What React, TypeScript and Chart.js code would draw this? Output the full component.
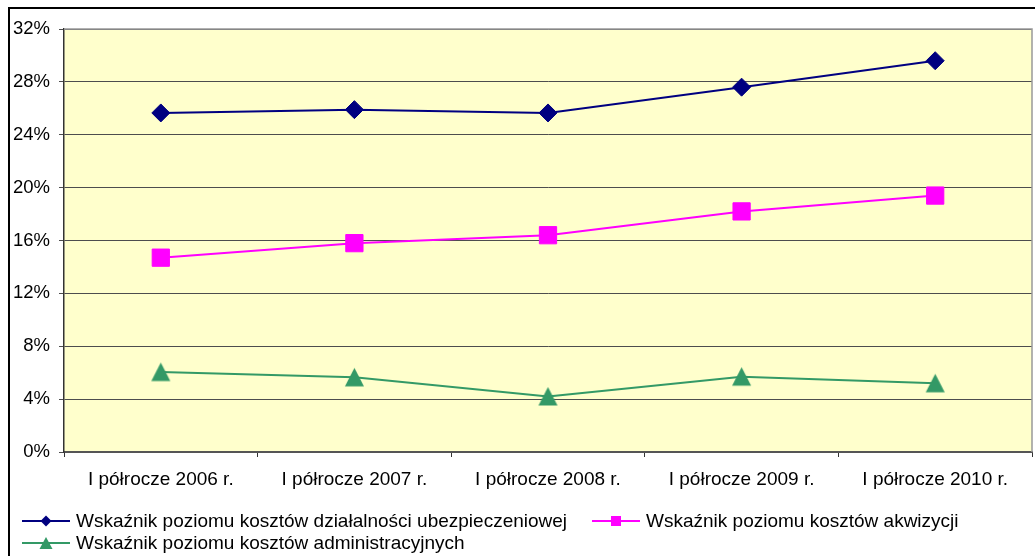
import React, { useEffect, useRef } from 'react';
import { Chart, registerables } from 'chart.js';

Chart.register(...registerables);

const categories = [
  'I półrocze 2006 r.',
  'I półrocze 2007 r.',
  'I półrocze 2008 r.',
  'I półrocze 2009 r.',
  'I półrocze 2010 r.',
];
const activityCost = [25.65, 25.9, 25.65, 27.6, 29.6];
const acquisitionCost = [14.7, 15.8, 16.4, 18.2, 19.4];
const adminCost = [6.05, 5.65, 4.2, 5.7, 5.2];
const seriesLabels = [
  'Wskaźnik poziomu kosztów działalności ubezpieczeniowej',
  'Wskaźnik poziomu kosztów akwizycji',
  'Wskaźnik poziomu kosztów administracyjnych',
];
const yMin = 0;
const yMax = 32;
const yStep = 4;

const FONT = '"Liberation Sans", Arial, sans-serif';
const colors = ['#000080', '#FF00FF', '#339966'];

function triangleCanvas(color: string, w: number, h: number) {
  const c = document.createElement('canvas');
  c.width = Math.ceil(w) + 2;
  c.height = Math.ceil(h) + 2;
  const g = c.getContext('2d') as CanvasRenderingContext2D;
  g.fillStyle = color;
  g.beginPath();
  g.moveTo(c.width / 2, 1);
  g.lineTo(c.width / 2 + w / 2, 1 + h);
  g.lineTo(c.width / 2 - w / 2, 1 + h);
  g.closePath();
  g.fill();
  return c;
}

function drawMarker(ctx: CanvasRenderingContext2D, i: number, x: number, y: number) {
  ctx.beginPath();
  if (i === 0) {
    const r = 5.5;
    ctx.moveTo(x, y - r);
    ctx.lineTo(x + r, y);
    ctx.lineTo(x, y + r);
    ctx.lineTo(x - r, y);
  } else if (i === 1) {
    const s = 5;
    ctx.rect(x - s, y - s, 2 * s, 2 * s);
  } else {
    ctx.moveTo(x, y - 6);
    ctx.lineTo(x + 6.5, y + 6);
    ctx.lineTo(x - 6.5, y + 6);
  }
  ctx.closePath();
  ctx.fill();
}

const decorPlugin = {
  id: 'decor',
  beforeDraw(chart: any) {
    const { ctx, chartArea } = chart;
    ctx.save();
    ctx.fillStyle = '#FFFFFF';
    ctx.fillRect(0, 0, chart.width, chart.height);
    ctx.fillStyle = '#FFFFCC';
    ctx.fillRect(chartArea.left, chartArea.top, chartArea.right - chartArea.left, chartArea.bottom - chartArea.top);
    ctx.restore();
  },
  afterDraw(chart: any) {
    const { ctx, chartArea } = chart;
    ctx.save();
    ctx.strokeStyle = '#999999';
    ctx.lineWidth = 1.5;
    ctx.beginPath();
    ctx.moveTo(chartArea.left, chartArea.top);
    ctx.lineTo(chartArea.right, chartArea.top);
    ctx.lineTo(chartArea.right, chartArea.bottom);
    ctx.stroke();
    ctx.strokeStyle = '#000000';
    ctx.lineWidth = 2;
    ctx.strokeRect(9, 8, 1200, 800);
    const items = [
      { x: 22, y: 521, i: 0 },
      { x: 592, y: 521, i: 1 },
      { x: 22, y: 543, i: 2 },
    ];
    ctx.font = '19px ' + FONT;
    ctx.textBaseline = 'middle';
    ctx.textAlign = 'left';
    items.forEach(({ x, y, i }) => {
      ctx.strokeStyle = colors[i];
      ctx.lineWidth = 2;
      ctx.beginPath();
      ctx.moveTo(x, y);
      ctx.lineTo(x + 48, y);
      ctx.stroke();
      ctx.fillStyle = colors[i];
      drawMarker(ctx, i, x + 24, y);
      ctx.fillStyle = '#000000';
      ctx.fillText(seriesLabels[i], x + 54, y + 0.5);
    });
    ctx.restore();
  },
};

export default function App() {
  const ref = useRef<HTMLCanvasElement>(null);
  useEffect(() => {
    if (!ref.current) return;
    const mk = (label: string, data: number[], i: number, style: any, radius: number) => ({
      label,
      data,
      borderColor: colors[i],
      backgroundColor: colors[i],
      pointBackgroundColor: colors[i],
      pointBorderColor: colors[i],
      pointStyle: style,
      pointRadius: radius,
      pointBorderWidth: 1,
      borderWidth: 2,
      tension: 0,
    });
    const tri = triangleCanvas(colors[2], 19, 18.5);
    const chart = new Chart(ref.current, {
      type: 'line',
      data: {
        labels: categories,
        datasets: [
          mk(seriesLabels[0], activityCost, 0, 'rectRot', 9),
          mk(seriesLabels[1], acquisitionCost, 1, 'rect', 12.2),
          mk(seriesLabels[2], adminCost, 2, tri, 10),
        ],
      },
      plugins: [decorPlugin],
      options: {
        responsive: false,
        animation: false,
        layout: { autoPadding: false, padding: { top: 29, right: 3, left: 0, bottom: 0 } },
        plugins: {
          legend: { display: false },
          tooltip: { enabled: false },
        },
        scales: {
          x: {
            offset: true,
            afterFit: (s: any) => {
              s.height = 104;
              s.paddingLeft = 0;
              s.paddingRight = 0;
            },
            grid: {
              display: true,
              drawOnChartArea: false,
              drawTicks: true,
              tickLength: 5,
              color: '#333333',
              offset: true,
            },
            border: { display: true, color: '#555555', width: 2 },
            ticks: {
              color: '#000000',
              padding: 11,
              font: { family: FONT, size: 19 },
              maxRotation: 0,
              autoSkip: false,
            },
          },
          y: {
            min: yMin,
            max: yMax,
            afterFit: (s: any) => {
              s.width = 64;
            },
            grid: {
              color: '#4d4d4d',
              lineWidth: 1,
              tickLength: 5,
              drawTicks: true,
            },
            border: { display: true, color: '#333333', width: 1.5 },
            ticks: {
              stepSize: yStep,
              padding: 9,
              color: '#000000',
              font: { family: FONT, size: 18.5 },
              callback: (v: any) => v + '%',
            },
          },
        },
      },
    });
    return () => chart.destroy();
  }, []);
  return (
    <div style={{ position: 'absolute', left: 0, top: 0, width: 1035, height: 556 }}>
      <canvas ref={ref} width={1035} height={556} />
    </div>
  );
}
